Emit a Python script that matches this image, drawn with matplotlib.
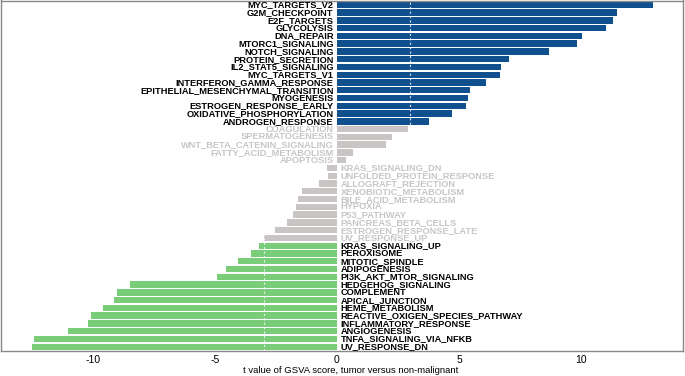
import matplotlib
matplotlib.use("Agg")
import matplotlib.pyplot as plt

pathways = [
    "MYC_TARGETS_V2", "G2M_CHECKPOINT", "E2F_TARGETS", "GLYCOLYSIS", "DNA_REPAIR",
    "MTORC1_SIGNALING", "NOTCH_SIGNALING", "PROTEIN_SECRETION", "IL2_STAT5_SIGNALING",
    "MYC_TARGETS_V1", "INTERFERON_GAMMA_RESPONSE", "EPITHELIAL_MESENCHYMAL_TRANSITION",
    "MYOGENESIS", "ESTROGEN_RESPONSE_EARLY", "OXIDATIVE_PHOSPHORYLATION", "ANDROGEN_RESPONSE",
    "COAGULATION", "SPERMATOGENESIS", "WNT_BETA_CATENIN_SIGNALING", "FATTY_ACID_METABOLISM",
    "APOPTOSIS", "KRAS_SIGNALING_DN", "UNFOLDED_PROTEIN_RESPONSE", "ALLOGRAFT_REJECTION",
    "XENOBIOTIC_METABOLISM", "BILE_ACID_METABOLISM", "HYPOXIA", "P53_PATHWAY",
    "PANCREAS_BETA_CELLS", "ESTROGEN_RESPONSE_LATE", "UV_RESPONSE_UP", "KRAS_SIGNALING_UP",
    "PEROXISOME", "MITOTIC_SPINDLE", "ADIPOGENESIS", "PI3K_AKT_MTOR_SIGNALING",
    "HEDGEHOG_SIGNALING", "COMPLEMENT", "APICAL_JUNCTION", "HEME_METABOLISM",
    "REACTIVE_OXIGEN_SPECIES_PATHWAY", "INFLAMMATORY_RESPONSE", "ANGIOGENESIS",
    "TNFA_SIGNALING_VIA_NFKB", "UV_RESPONSE_DN",
]
t_values = [
    12.95, 11.48, 11.30, 11.02, 10.03, 9.85, 8.69, 7.04, 6.71, 6.68, 6.10, 5.46,
    5.37, 5.29, 4.70, 3.76, 2.90, 2.24, 2.00, 0.64, 0.36, -0.40, -0.38, -0.75,
    -1.42, -1.60, -1.68, -1.79, -2.04, -2.54, -2.99, -3.19, -3.54, -4.07, -4.56,
    -4.92, -8.50, -9.00, -9.13, -9.57, -10.10, -10.22, -11.04, -12.42, -12.52,
]
threshold = 3
xticks = [-10, -5, 0, 5, 10]
xlabel = "t value of GSVA score, tumor versus non-malignant"

c_up = "#11508F"
c_down = "#79CD79"
c_ns = "#C9C5C5"

fig = plt.figure(figsize=(6.85, 3.76), dpi=100)
ax = fig.add_axes([1/685, 25/376, 682/685, 350.5/376])

n = len(pathways)
ys = list(range(n))
colors = []
for v in t_values:
    if v > threshold:
        colors.append(c_up)
    elif v < -threshold:
        colors.append(c_down)
    else:
        colors.append(c_ns)

ax.barh(ys, t_values, height=0.82, color=colors, edgecolor="none", zorder=2)
for xv in (-threshold, threshold):
    ax.axvline(xv, color="white", lw=0.8, ls=(0, (2, 2)), alpha=0.8, zorder=3)

for y, v, name, c in zip(ys, t_values, pathways, colors):
    tc = c_ns if c == c_ns else "black"
    if v >= 0:
        ax.annotate(name, (0, y), xytext=(-2.5, 0), textcoords="offset points",
                    ha="right", va="center", fontsize=6.7, fontweight="bold",
                    family="Liberation Sans", color=tc, zorder=4)
    else:
        ax.annotate(name, (0, y), xytext=(2.5, 0), textcoords="offset points",
                    ha="left", va="center", fontsize=6.7, fontweight="bold",
                    family="Liberation Sans", color=tc, zorder=4)

ax.set_xlim(-13.77, 14.18)
ax.set_ylim(n - 0.45, -0.55)
ax.set_yticks([])
ax.set_xticks(xticks)
ax.set_xticklabels([str(t) for t in xticks], family="Liberation Sans", fontsize=7.5)
ax.tick_params(axis="x", length=0, pad=3)
for s in ax.spines.values():
    s.set_color("#888888")
    s.set_linewidth(1.0)
ax.text(0.5127, -0.042, xlabel, transform=ax.transAxes, ha="center", va="top",
        family="Liberation Sans", fontsize=6.8)

fig.savefig("out.png", dpi=100)
